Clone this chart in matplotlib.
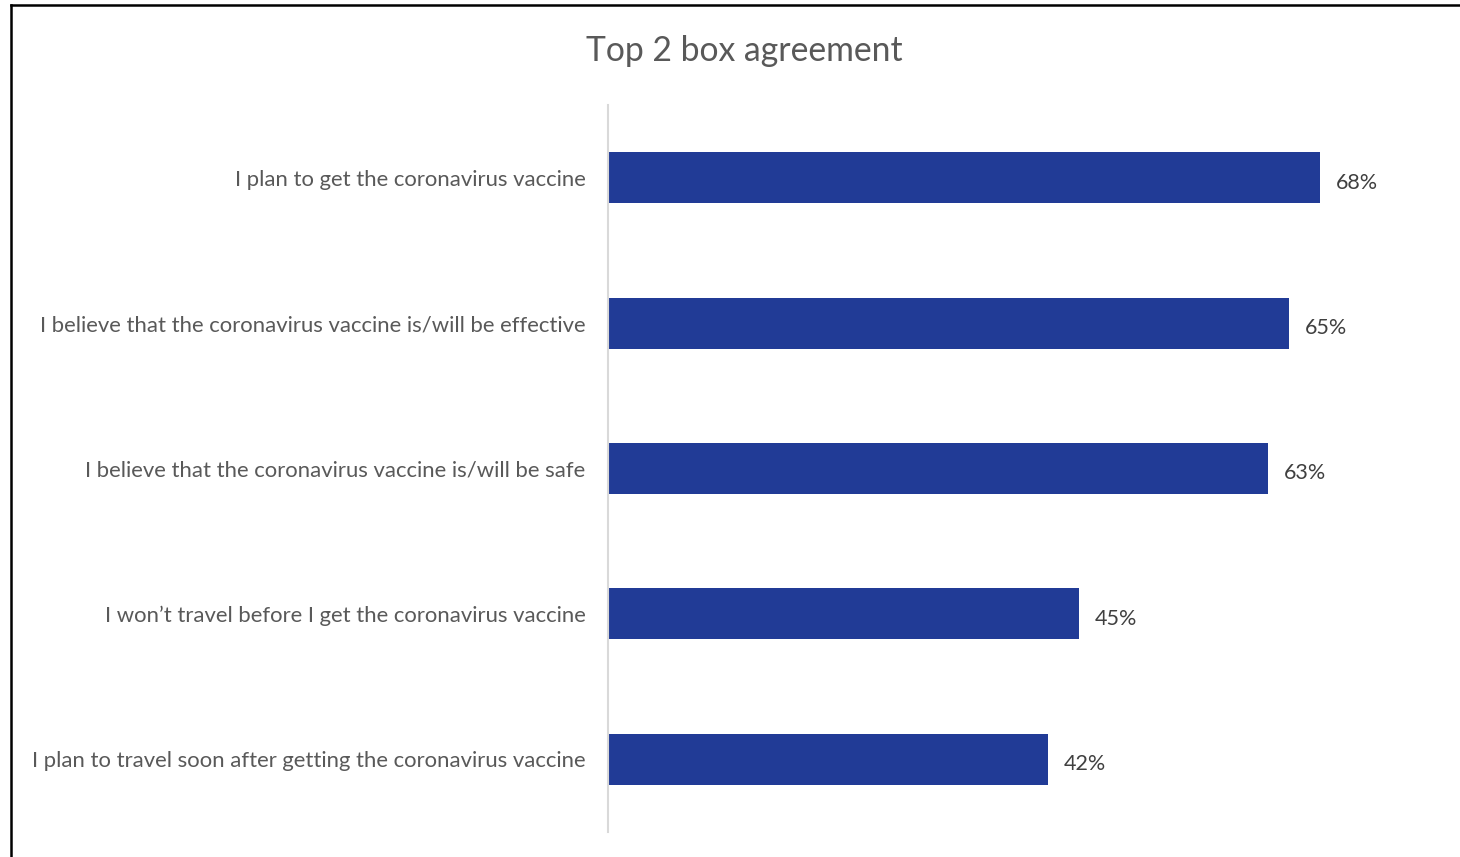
import matplotlib.pyplot as plt
from matplotlib.lines import Line2D

# survey statements, top to bottom
statements = [
    "I plan to get the coronavirus vaccine",
    "I believe that the coronavirus vaccine is/will be effective",
    "I believe that the coronavirus vaccine is/will be safe",
    "I won\u2019t travel before I get the coronavirus vaccine",
    "I plan to travel soon after getting the coronavirus vaccine",
]
agree_pct = [68, 65, 63, 45, 42]

bar_color = "#213B96"
label_color = "#595959"
value_color = "#404040"

plt.rcParams['font.family'] = ['Lato', 'DejaVu Sans']

fig = plt.figure(figsize=(14.6, 8.57), dpi=100)
ax = fig.add_axes([0.4164, 0.0292, 0.574, 0.8483])

pos = list(range(len(statements)))
ax.barh(pos, agree_pct, height=0.35, color=bar_color)
for p, v in zip(pos, agree_pct):
    ax.text(v + 1.5, p + 0.02, f"{v}%", va="center_baseline", ha="left",
            fontsize=15.5, color=value_color)

ax.set_yticks(pos)
ax.set_yticklabels(statements, fontsize=15.9, color=label_color)
ax.tick_params(axis="y", length=0, pad=16)
ax.set_xticks([])
ax.set_xlim(0, 80)
ax.set_ylim(len(statements) - 0.5, -0.5)

for side in ["top", "right", "bottom"]:
    ax.spines[side].set_visible(False)
ax.spines["left"].set_color("#D9D9D9")
ax.spines["left"].set_linewidth(1.5)

fig.text(0.51, 0.94, "Top 2 box agreement", ha="center", va="center",
         fontsize=24.3, color=label_color)

# outer frame (top and left edges)
fig.add_artist(Line2D([0.0075, 1.0], [0.9942, 0.9942], color="black", lw=1.8,
                      transform=fig.transFigure))
fig.add_artist(Line2D([0.0075, 0.0075], [0.0, 0.9942], color="black", lw=1.8,
                      transform=fig.transFigure))

fig.savefig("out.png", dpi=100)
